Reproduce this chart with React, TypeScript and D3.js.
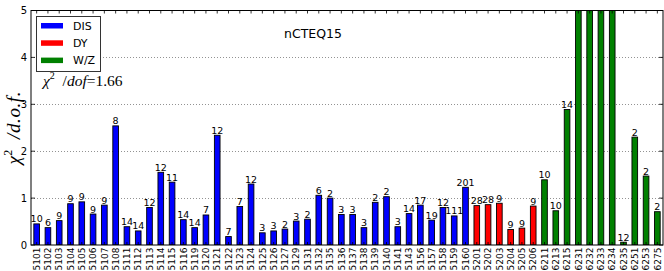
import { useEffect, useRef } from 'react';
import * as d3 from 'd3';

const experiments = [
  '5101', '5102', '5103', '5104', '5105', '5106', '5107', '5108', '5111', '5112',
  '5113', '5114', '5115', '5116', '5119', '5120', '5121', '5122', '5123', '5124',
  '5125', '5126', '5127', '5129', '5131', '5132', '5135', '5136', '5137', '5138',
  '5139', '5140', '5141', '5143', '5156', '5157', '5158', '5159', '5160',
  '5201', '5202', '5203', '5204', '5205', '5206',
  '6211', '6213', '6215', '6231', '6232', '6233', '6234', '6235', '6251', '6253', '6275',
];

// chi2 / dof per experiment (values above 5 run off the top of the plot)
const chi2PerDof = [
  0.45, 0.37, 0.52, 0.88, 0.92, 0.66, 0.85, 2.54, 0.39, 0.30,
  0.80, 1.55, 1.34, 0.54, 0.37, 0.64, 2.34, 0.18, 0.82, 1.30,
  0.26, 0.30, 0.34, 0.51, 0.55, 1.06, 1.00, 0.65, 0.65, 0.37,
  0.91, 1.03, 0.39, 0.67, 0.85, 0.53, 0.80, 0.62, 1.23,
  0.84, 0.86, 0.89, 0.33, 0.36, 0.83,
  1.39, 0.73, 2.89, 7.5, 8.0, 6.5, 6.0, 0.06, 2.30, 1.47, 0.71,
];

// number of data points per experiment
const numPoints = [
  10, 6, 9, 9, 9, 9, 9, 8, 14, 14,
  12, 12, 11, 14, 14, 7, 12, 7, 7, 12,
  3, 3, 2, 3, 2, 6, 2, 3, 3, 3,
  2, 2, 3, 14, 17, 19, 12, 111, 201,
  28, 28, 9, 9, 9, 9,
  10, 10, 14, 8, 8, 8, 8, 12, 2, 2, 2,
];

const seriesNames = ['DIS', 'DY', 'W/Z'];
const seriesColors = ['#0000ff', '#ff0000', '#008000'];
const yTicks = [0, 1, 2, 3, 4, 5];

function seriesOf(id: string) {
  if (id.startsWith('51')) return 0;
  if (id.startsWith('52')) return 1;
  return 2;
}

export default function App() {
  const svgRef = useRef<SVGSVGElement>(null);

  useEffect(() => {
    if (!svgRef.current) return;
    const svg = d3.select(svgRef.current);
    svg.selectAll('*').remove();

    const left = 31;
    const right = 663;
    const top = 10.5;
    const bottom = 245;
    const sans = 'DejaVu Sans, sans-serif';
    const serif = 'Liberation Serif, DejaVu Serif, serif';

    const x = d3.scaleBand<string>().domain(experiments).range([left, right]);
    const y = d3.scaleLinear().domain([0, 5]).range([bottom, top]);
    const cx = (d: string) => (x(d) ?? 0) + x.bandwidth() / 2;
    const barW = x.step() * 0.5;

    svg.append('rect').attr('width', 664).attr('height', 271).attr('fill', '#fff');

    svg.append('defs')
      .append('clipPath')
      .attr('id', 'plot-clip')
      .append('rect')
      .attr('x', left)
      .attr('y', top)
      .attr('width', right - left)
      .attr('height', bottom - top);

    // dotted gridlines
    svg.append('g')
      .selectAll('line')
      .data(yTicks.slice(1, -1))
      .join('line')
      .attr('x1', left)
      .attr('x2', right)
      .attr('y1', (d) => Math.round(y(d)) + 0.5)
      .attr('y2', (d) => Math.round(y(d)) + 0.5)
      .attr('stroke', '#777')
      .attr('stroke-width', 0.8)
      .attr('stroke-dasharray', '1,2');

    // bars
    const data = experiments.map((id, i) => ({ id, v: chi2PerDof[i], n: numPoints[i], s: seriesOf(id) }));

    svg.append('g')
      .attr('clip-path', 'url(#plot-clip)')
      .selectAll('rect')
      .data(data)
      .join('rect')
      .attr('x', (d) => cx(d.id) - barW / 2)
      .attr('y', (d) => y(d.v))
      .attr('width', barW)
      .attr('height', (d) => bottom - y(d.v))
      .attr('fill', (d) => seriesColors[d.s])
      .attr('stroke', '#000')
      .attr('stroke-width', 0.9);

    // point counts above bars
    svg.append('g')
      .selectAll('text')
      .data(data.filter((d) => d.v <= 5))
      .join('text')
      .attr('x', (d) => cx(d.id))
      .attr('y', (d) => y(d.v) - 1.5)
      .attr('text-anchor', 'middle')
      .attr('font-family', sans)
      .attr('font-size', 9.5)
      .text((d) => d.n);

    // frame
    svg.append('rect')
      .attr('x', left)
      .attr('y', top)
      .attr('width', right - left)
      .attr('height', bottom - top)
      .attr('fill', 'none')
      .attr('stroke', '#000')
      .attr('stroke-width', 1);

    // ticks
    const ticks = svg.append('g').attr('stroke', '#000').attr('stroke-width', 0.8);
    yTicks.forEach((t) => {
      ticks.append('line').attr('x1', left).attr('x2', left + 4).attr('y1', y(t)).attr('y2', y(t));
      ticks.append('line').attr('x1', right).attr('x2', right - 4).attr('y1', y(t)).attr('y2', y(t));
    });
    experiments.forEach((e) => {
      ticks.append('line').attr('x1', cx(e)).attr('x2', cx(e)).attr('y1', top).attr('y2', top + 3);
      ticks.append('line').attr('x1', cx(e)).attr('x2', cx(e)).attr('y1', bottom).attr('y2', bottom - 3);
    });

    // y tick labels
    svg.append('g')
      .selectAll('text')
      .data(yTicks)
      .join('text')
      .attr('x', 27)
      .attr('y', (d) => y(d))
      .attr('dy', '0.35em')
      .attr('text-anchor', 'end')
      .attr('font-family', sans)
      .attr('font-size', 10)
      .text((d) => d);

    // x tick labels (rotated)
    svg.append('g')
      .selectAll('text')
      .data(experiments)
      .join('text')
      .attr('transform', (d) => `translate(${cx(d)},${bottom + 2.5}) rotate(-90)`)
      .attr('dy', '0.35em')
      .attr('text-anchor', 'end')
      .attr('font-family', sans)
      .attr('font-size', 9)
      .text((d) => d);

    // y axis label
    const yl = svg.append('text')
      .attr('transform', `translate(20,${(top + bottom) / 2}) rotate(-90)`)
      .attr('text-anchor', 'middle')
      .attr('font-family', serif)
      .attr('font-size', 19)
      .attr('font-style', 'italic')
      .attr('letter-spacing', 0.6);
    yl.append('tspan').text('χ');
    yl.append('tspan').attr('font-size', 12).attr('dy', -8).attr('font-style', 'normal').text('2');
    yl.append('tspan').attr('dy', 8).text('\u2002/d.o.f.');

    // title
    svg.append('text')
      .attr('x', 313)
      .attr('y', 38)
      .attr('text-anchor', 'middle')
      .attr('font-family', sans)
      .attr('font-size', 12.5)
      .text('nCTEQ15');

    // legend
    const legend = svg.append('g');
    legend.append('rect')
      .attr('x', 36.5)
      .attr('y', 16.5)
      .attr('width', 64)
      .attr('height', 55)
      .attr('fill', '#fff')
      .attr('stroke', '#333')
      .attr('stroke-width', 1);
    seriesNames.forEach((name, i) => {
      legend.append('rect')
        .attr('x', 41)
        .attr('y', 23 + i * 17.3)
        .attr('width', 22)
        .attr('height', 5.5)
        .attr('fill', seriesColors[i]);
      legend.append('text')
        .attr('x', 73)
        .attr('y', 25.7 + i * 17.3)
        .attr('dy', '0.35em')
        .attr('font-family', sans)
        .attr('font-size', 11)
        .text(name);
    });

    // chi2 summary
    const summary = svg.append('text')
      .attr('x', 43)
      .attr('y', 86)
      .attr('font-family', serif)
      .attr('font-size', 15.5);
    summary.append('tspan').attr('font-style', 'italic').text('χ');
    summary.append('tspan').attr('font-size', 10).attr('dy', -7).text('2');
    summary.append('tspan').attr('dy', 7).text('\u2002/');
    summary.append('tspan').attr('font-style', 'italic').text('dof');
    summary.append('tspan').text('=1.66');
  }, []);

  return (
    <svg
      ref={svgRef}
      width={664}
      height={271}
      style={{ position: 'absolute', left: 0, top: 0 }}
    />
  );
}
